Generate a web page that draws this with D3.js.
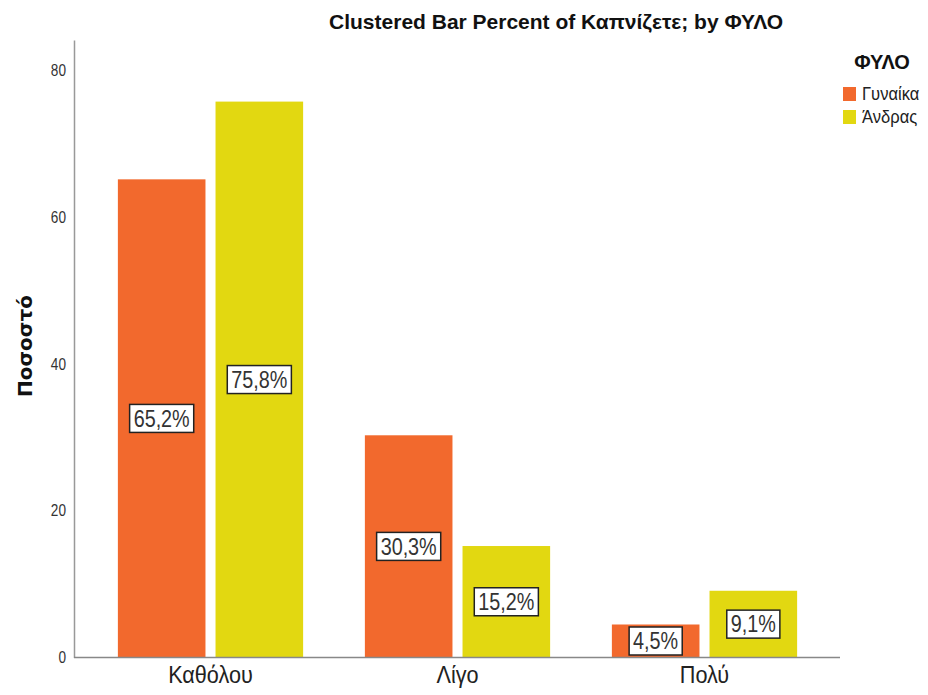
<html>
<head>
	<meta charset="utf-8">
	<script src="https://d3js.org/d3.v7.min.js"></script>
	<style>
		body { margin: 0; background: #fff; }
		text { font-family: 'Liberation Sans', Arial, sans-serif; }
	</style>
</head>
<body>
	<div id="output"></div>
	<script>
		// chart data
		var categories = ["Καθόλου", "Λίγο", "Πολύ"];
		var series = ["Γυναίκα", "Άνδρας"];
		var women = [65.2, 30.3, 4.5];
		var men = [75.8, 15.2, 9.1];
		var yTicks = [0, 20, 40, 60, 80];
		var colors = ["#f2692d", "#e2d811"];

		var width = 928, height = 695;
		var svg = d3.select("#output").append("svg")
			.attr("width", width)
			.attr("height", height);

		// no narrow font installed, so squeeze the glyphs instead
		function narrow(sel, k) {
			sel.each(function() {
				var len = this.getComputedTextLength();
				d3.select(this)
					.attr("textLength", len * k)
					.attr("lengthAdjust", "spacingAndGlyphs");
			});
		}

		// scales
		var y = d3.scaleLinear().domain([0, 84.2]).range([657.5, 40]);
		var x0 = d3.scaleBand().domain(categories).range([87, 828])
			.paddingInner(0.25).paddingOuter(0.125);
		var x1 = d3.scaleBand().domain(series).range([0, x0.bandwidth()])
			.paddingInner(0.103);
		var color = d3.scaleOrdinal().domain(series).range(colors);

		var rows = categories.map(function(c, i) {
			return { cat: c, values: [
				{ s: series[0], v: women[i] },
				{ s: series[1], v: men[i] }
			] };
		});

		// title
		svg.append("text")
			.attr("x", 556)
			.attr("y", 29)
			.style("font-size", "21px")
			.style("font-weight", "bold")
			.style("text-anchor", "middle")
			.style("fill", "#111")
			.text("Clustered Bar Percent of Καπνίζετε; by ΦΥΛΟ");

		// y axis
		var yAxis = svg.append("g")
			.attr("transform", "translate(74,0)")
			.call(d3.axisLeft(y).tickValues(yTicks).tickSize(0).tickPadding(8));
		yAxis.select(".domain").attr("stroke", "#999").attr("stroke-width", 1.5);
		yAxis.selectAll("text")
			.style("font-size", "16px")
			.style("fill", "#333")
			.style("font-family", "'Liberation Sans', Arial, sans-serif")
			.call(narrow, 0.85);

		// y title
		svg.append("text")
			.attr("transform", "translate(32,346) rotate(-90)")
			.style("font-size", "20px")
			.style("font-weight", "bold")
			.style("text-anchor", "middle")
			.style("font-family", "'DejaVu Sans', sans-serif")
			.style("fill", "#111")
			.text("Ποσοστό");

		// bars
		var groups = svg.append("g").selectAll("g")
			.data(rows)
			.join("g")
			.attr("transform", function(d) { return "translate(" + x0(d.cat) + ",0)"; });

		groups.selectAll("rect")
			.data(function(d) { return d.values; })
			.join("rect")
			.attr("x", function(d) { return x1(d.s); })
			.attr("y", function(d) { return y(d.v); })
			.attr("width", x1.bandwidth())
			.attr("height", function(d) { return y(0) - y(d.v); })
			.attr("fill", function(d) { return color(d.s); });

		// x axis line
		svg.append("line")
			.attr("x1", 74).attr("x2", 840)
			.attr("y1", y(0)).attr("y2", y(0))
			.attr("stroke", "#888")
			.attr("stroke-width", 1.5);

		var xAxis = svg.append("g")
			.attr("transform", "translate(0," + y(0) + ")")
			.call(d3.axisBottom(x0).tickSize(0).tickPadding(9));
		xAxis.select(".domain").remove();
		xAxis.selectAll("text")
			.style("font-size", "23px")
			.style("fill", "#222")
			.style("font-family", "'Liberation Sans', Arial, sans-serif")
			.call(narrow, 0.94);

		// value labels
		groups.each(function(row) {
			var g = d3.select(this);
			row.values.forEach(function(d) {
				var cx = x1(d.s) + x1.bandwidth() / 2;
				var cy = (y(d.v) + y(0)) / 2;
				var lab = g.append("g");
				var box = lab.append("rect");
				var t = lab.append("text")
					.attr("x", cx)
					.attr("y", cy)
					.attr("dy", "0.36em")
					.style("font-size", "23px")
					.style("text-anchor", "middle")
					.style("fill", "#333")
					.text(d.v.toFixed(1).replace(".", ",") + "%")
					.call(narrow, 0.86);
				var w = +t.attr("textLength");
				box.attr("x", cx - w / 2 - 4)
					.attr("y", cy - 14)
					.attr("width", w + 8)
					.attr("height", 28)
					.attr("fill", "#fff")
					.attr("stroke", "#222")
					.attr("stroke-width", 1.5);
			});
		});

		// legend
		svg.append("text")
			.attr("x", 882)
			.attr("y", 69)
			.style("font-size", "20px")
			.style("font-weight", "bold")
			.style("text-anchor", "middle")
			.style("fill", "#111")
			.text("ΦΥΛΟ");

		var leg = svg.append("g").selectAll("g")
			.data(series)
			.join("g")
			.attr("transform", function(d, i) { return "translate(843," + (87 + i * 23) + ")"; });
		leg.append("rect")
			.attr("width", 13)
			.attr("height", 14)
			.attr("fill", function(d) { return color(d); });
		leg.append("text")
			.attr("x", 19)
			.attr("y", 7)
			.attr("dy", "0.36em")
			.style("font-size", "18px")
			.style("fill", "#222")
			.text(function(d) { return d; })
			.call(narrow, 0.92);
	</script>
</body>
</html>
